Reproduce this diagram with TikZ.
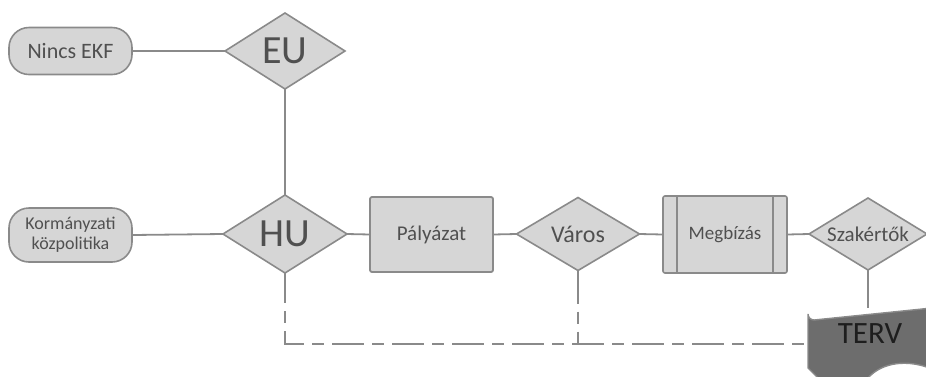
\documentclass[tikz,border=0pt]{standalone}
\usepackage{fontspec}
\setmainfont{Carlito}
\usetikzlibrary{shapes.geometric,calc}

\definecolor{boxfill}{HTML}{D6D6D6}
\definecolor{boxline}{HTML}{8A8A8A}
\definecolor{boxtext}{HTML}{505050}
\definecolor{docfill}{HTML}{6D6D6D}
\definecolor{doctext}{HTML}{1E1E1E}

\tikzset{
  every node/.style={inner sep=0pt, outer sep=0pt},
  pill/.style={draw=boxline, fill=boxfill, line width=1.6pt, rounded corners=20pt,
               minimum width=123pt, text=boxtext, align=center},
  decision/.style={draw=boxline, fill=boxfill, line width=1.6pt, diamond,
                   aspect=1.6, text=boxtext},
  process/.style={draw=boxline, fill=boxfill, line width=1.8pt, rounded corners=2pt,
                  minimum width=123pt, minimum height=75pt, text=boxtext},
  link/.style={draw=boxline, line width=1.8pt},
  dashlink/.style={link, dash pattern=on 32pt off 8pt on 12pt off 8pt, dash phase=32pt},
}

\begin{document}
\begin{tikzpicture}[x=1pt, y=-1pt]
  \useasboundingbox (0,0) rectangle (926,376);

  % start nodes
  \node[pill, minimum height=47pt, font=\fontsize{22}{24}\selectfont] (nincs) at (70.5,51) {Nincs EKF};
  \node[pill, minimum height=54pt, font=\fontsize{18}{20}\selectfont] (korm) at (70.5,235)
       {Kormányzati\\közpolitika};

  % decision diamonds (shape drawn empty, text placed on top)
  \node[decision, minimum width=120pt, minimum height=76pt] (eu) at (285,51) {};
  \node[text=boxtext, font=\fontsize{40}{40}\selectfont] (eut) at (eu.center) {EU};
  \node[decision, minimum width=124pt, minimum height=78pt] (hu) at (285,234) {};
  \node[text=boxtext, font=\fontsize{40}{40}\selectfont] (hut) at (hu.center) {HU};
  \node[decision, minimum width=123pt, minimum height=73pt] (var) at (578,234) {};
  \node[text=boxtext, font=\fontsize{24}{24}\selectfont] (vart) at (var.center) {Város};
  \node[decision, minimum width=118pt, minimum height=72pt] (szak) at (868,234) {};
  \node[text=boxtext, font=\fontsize{21}{21}\selectfont] (szakt) at (szak.center) {Szakértők};

  % process boxes
  \node[process, font=\fontsize{21}{21}\selectfont] (pal) at (431.5,234.5) {Pályázat};
  \node[process, minimum width=124pt, minimum height=77pt, line width=1.6pt,
        font=\fontsize{19}{19}\selectfont] (meg) at (725,234.5) {Megbízás};
  \draw[boxline, line width=1.6pt] ($(meg.north west)+(14,0)$) -- ($(meg.south west)+(14,0)$);
  \draw[boxline, line width=1.6pt] ($(meg.north east)+(-14,0)$) -- ($(meg.south east)+(-14,0)$);

  % document shape with wavy bottom
  \begin{scope}
    \clip (0,0) rectangle (926,376);
    \draw[fill=docfill, draw=boxline, line width=1.4pt]
      (808,314) arc[start angle=180, end angle=270, radius=6pt] -- (932,308) -- (932,369)
      .. controls (908,359) and (882,362) .. (868,378)
      -- (818,378) -- (808,368) -- cycle;
  \end{scope}
  \node[minimum width=118pt, minimum height=60pt] (terv) at (869,338) {};
  \node[text=doctext, font=\fontsize{31}{31}\selectfont] (tervt) at (870,334) {TERV};

  % connectors
  \draw[link] (nincs.east) -- (eu.west);
  \draw[link] (eu.south) -- (hu.north);
  \draw[link] (korm.east) -- (hu.west);
  \draw[link] (hu.east) -- (pal.west);
  \draw[link] (pal.east) -- (var.west);
  \draw[link] (var.east) -- (meg.west);
  \draw[link] (meg.east) -- (szak.west);
  \draw[link] (szak.south) -- (szak.south |- terv.north);

  % dashed feedback lines
  \coordinate (husolid) at ($(hu.south)+(0,30)$);
  \coordinate (hucorner) at ($(hu.south)+(0,71)$);
  \coordinate (varsolid) at ($(var.south)+(0,33)$);
  \coordinate (varjoin) at ($(var.south)+(0,74)$);
  \draw[link] (hu.south) -- (husolid);
  \draw[link] (var.south) -- (varsolid);
  \draw[dashlink] (husolid) -- (hucorner) -- (hucorner -| terv.west);
  \draw[dashlink] (varsolid) -- (varjoin);
\end{tikzpicture}
\end{document}
